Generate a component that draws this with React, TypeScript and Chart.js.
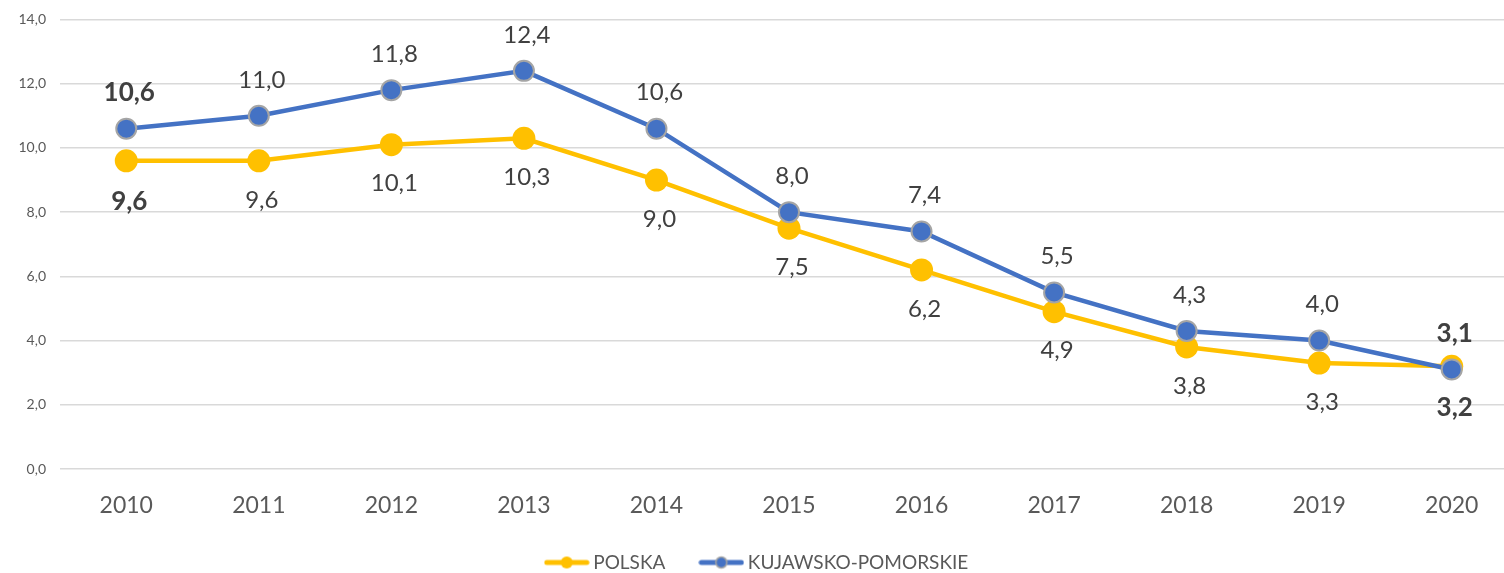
import React, { useEffect, useRef } from "react";
import { Chart, registerables } from "chart.js";

Chart.register(...registerables);

const years = ["2010", "2011", "2012", "2013", "2014", "2015", "2016", "2017", "2018", "2019", "2020"];
const polska = [9.6, 9.6, 10.1, 10.3, 9.0, 7.5, 6.2, 4.9, 3.8, 3.3, 3.2];
const kujawsko = [10.6, 11.0, 11.8, 12.4, 10.6, 8.0, 7.4, 5.5, 4.3, 4.0, 3.1];
const yTicks = [0, 2, 4, 6, 8, 10, 12, 14];

const YELLOW = "#FFC000";
const BLUE = "#4472C4";
const GREY_BORDER = "#A5A5A5";
const TEXT = "#595959";
const LABEL = "#404040";
const FONT = "Lato";

const fmt = (v: number) => v.toFixed(1).replace(".", ",");

function legendMarker(color: string, border: string | null) {
  const c = document.createElement("canvas");
  c.width = 46;
  c.height = 16;
  const ctx = c.getContext("2d")!;
  ctx.strokeStyle = color;
  ctx.lineWidth = 5;
  ctx.lineCap = "round";
  ctx.beginPath();
  ctx.moveTo(3, 8);
  ctx.lineTo(43, 8);
  ctx.stroke();
  ctx.beginPath();
  ctx.arc(23, 8, border ? 5.5 : 6, 0, Math.PI * 2);
  ctx.fillStyle = color;
  ctx.fill();
  if (border) {
    ctx.lineWidth = 1.5;
    ctx.strokeStyle = border;
    ctx.stroke();
  }
  return c;
}

const labelPlugin = {
  id: "valueLabels",
  afterDatasetsDraw(chart: any) {
    const ctx = chart.ctx;
    ctx.save();
    ctx.textAlign = "center";
    ctx.textBaseline = "middle";
    ctx.fillStyle = LABEL;
    chart.data.datasets.forEach((ds: any, di: number) => {
      const meta = chart.getDatasetMeta(di);
      const above = ds.labelPos === "above";
      meta.data.forEach((pt: any, i: number) => {
        const bold = i === 0 || i === ds.data.length - 1;
        ctx.font = bold ? `bold 26px ${FONT}` : `24px ${FONT}`;
        const dy = above ? -36 : bold ? 41 : 39;
        ctx.fillText(fmt(ds.data[i]), pt.x + 3, pt.y + dy);
      });
    });
    ctx.restore();
  },
};

export default function App() {
  const ref = useRef<HTMLCanvasElement>(null);
  useEffect(() => {
    const canvas = ref.current!;
    const markers = [legendMarker(YELLOW, null), legendMarker(BLUE, GREY_BORDER)];
    const chart = new Chart(canvas, {
      type: "line",
      data: {
        labels: years,
        datasets: [
          {
            label: "KUJAWSKO-POMORSKIE",
            data: kujawsko,
            borderColor: BLUE,
            backgroundColor: BLUE,
            borderWidth: 4.5,
            pointRadius: 10,
            pointBorderWidth: 2,
            pointBorderColor: GREY_BORDER,
            pointBackgroundColor: BLUE,
            tension: 0,
            labelPos: "above",
          } as any,
          {
            label: "POLSKA",
            data: polska,
            borderColor: YELLOW,
            backgroundColor: YELLOW,
            borderWidth: 4.5,
            pointRadius: 11.5,
            pointBorderWidth: 0,
            pointBackgroundColor: YELLOW,
            tension: 0,
            labelPos: "below",
          } as any,
        ],
      },
      options: {
        responsive: false,
        animation: false,
        layout: { padding: { top: 19.5, right: 12, left: 0, bottom: 8 } },
        plugins: {
          tooltip: { enabled: false },
          legend: {
            position: "bottom",
            labels: {
              color: TEXT,
              font: { family: FONT, size: 19 },
              usePointStyle: true,
              pointStyleWidth: 34,
              padding: 39,
              generateLabels: () => [
                { text: "POLSKA", pointStyle: markers[0], datasetIndex: 1, fillStyle: YELLOW, strokeStyle: YELLOW, lineWidth: 0, fontColor: TEXT } as any,
                { text: "KUJAWSKO-POMORSKIE", pointStyle: markers[1], datasetIndex: 0, fillStyle: BLUE, strokeStyle: BLUE, lineWidth: 0, fontColor: TEXT } as any,
              ],
            },
          },
        },
        scales: {
          x: {
            offset: true,
            grid: { display: false, offset: true },
            border: { display: false },
            ticks: { color: TEXT, font: { family: FONT, size: 23 }, padding: 15 },
            afterFit: (s: any) => {
              s.height = 45;
            },
          },
          y: {
            min: 0,
            max: 14,
            afterBuildTicks: (s: any) => {
              s.ticks = yTicks.map((v) => ({ value: v }));
            },
            grid: { color: "#D9D9D9", lineWidth: 1.5, drawTicks: false },
            border: { display: false },
            ticks: {
              color: TEXT,
              font: { family: FONT, size: 14 },
              padding: 14,
              callback: (v: any) => fmt(Number(v)),
            },
            afterFit: (s: any) => {
              s.width = 60;
              s.paddingTop = 0;
              s.paddingBottom = 0;
            },
          },
        },
      },
      plugins: [labelPlugin],
    });
    return () => chart.destroy();
  }, []);
  return (
    <div style={{ position: "fixed", left: 0, top: 0, width: 1504, height: 573, overflow: "hidden", background: "#fff" }}>
      <canvas ref={ref} width={1530} height={590} style={{ display: "block" }} />
    </div>
  );
}
